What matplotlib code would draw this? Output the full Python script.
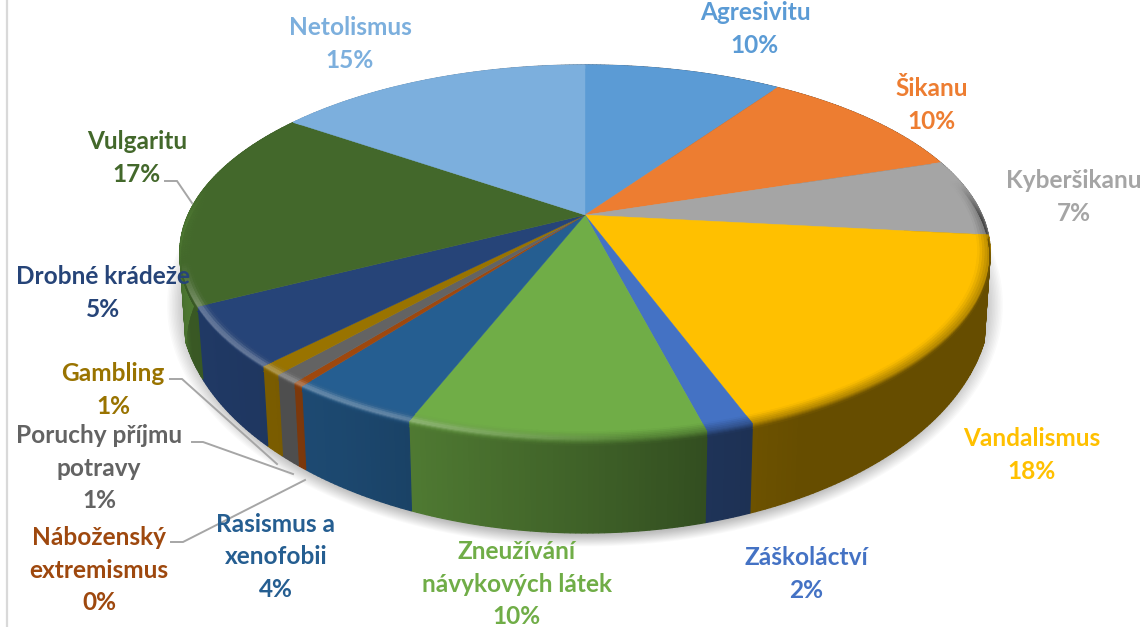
import numpy as np
import matplotlib
matplotlib.use("Agg")
import matplotlib.pyplot as plt
from matplotlib.colors import to_rgb
from matplotlib.patches import Polygon

categories = ["Agresivitu", "Šikanu", "Kyberšikanu", "Vandalismus", "Záškoláctví",
              "Zneužívání\nnávykových látek", "Rasismus a\nxenofobii", "Náboženský\nextremismus",
              "Poruchy příjmu\npotravy", "Gambling", "Drobné krádeže", "Vulgaritu", "Netolismus"]
values = [9.56, 10.44, 6.72, 17.72, 1.58, 9.86, 4.36, 0.36, 0.81, 0.81, 5.14, 17.36, 15.28]
colors = ["#5B9BD5", "#ED7D31", "#A5A5A5", "#FFC000", "#4472C4", "#70AD47", "#255E91",
          "#9E480E", "#636363", "#997300", "#264478", "#43682B", "#7CAFDD"]

# layout (pixels)
label_pos = [(755, 29), (932, 105), (1074, 197), (1032, 455), (806, 574), (517, 584), (276, 557),
             (99, 570), (99, 468), (113, 390), (103, 293), (137, 158), (350, 44)]
leaders = {7: [(171, 542), (183, 542), (305, 480)],
           8: [(192, 442), (203, 442), (293, 474)],
           9: [(170, 379), (182, 379), (277, 464)],
           11: [(165, 181), (177, 181), (192, 203)]}
CX, CY, A, B, K = 585, 215, 397, 180, 0.2
BOT_YC, BOT_RY, BOT_RX, BOT_S, BOT_D = 303, 230, 405, 0.985, 90

plt.rcParams["font.family"] = ["Lato", "Noto Sans", "DejaVu Sans"]
fig = plt.figure(figsize=(11.43, 6.27), dpi=100)
ax = fig.add_axes([0, 0, 1, 1])
ax.set_xlim(0, 1143)
ax.set_ylim(627, 0)
ax.axis("off")


def top_pt(th, r=1.0):
    w = 1 + K * r * np.cos(th)
    return CX + A * r * np.sin(th) / w, CY - B * r * np.cos(th) / w


def bot_pt(th):
    tx, ty = top_pt(th)
    dx = BOT_S * (tx - CX)
    y = BOT_YC + BOT_RY * np.sqrt(np.clip(1 - (dx / BOT_RX) ** 2, 0, 1))
    return CX + dx, np.where(np.cos(th) > -K, ty + BOT_D, y)


ax.axvline(6.5, color="#D9D9D9", lw=1.6, zorder=0)

# soft shadow under the pie
full = np.linspace(0, 2 * np.pi, 361)
for g in np.linspace(1.05, 1.0, 14):
    ax.add_patch(Polygon(np.c_[CX + 398 * g * np.sin(full), BOT_YC + 2 + BOT_RY * g * np.cos(full)],
                         closed=True, fc="black", ec="none", alpha=0.02, zorder=1))

edges = np.radians(np.r_[0, np.cumsum(values)] * 3.6)


def wall_factor(th):
    return np.interp(np.sin(th), [-1, -0.93, -0.5, 0, 0.25, 0.45, 1],
                     [1.15, 0.85, 0.76, 0.56, 0.45, 0.40, 0.40])


# walls
for i, c in enumerate(colors):
    base = np.array(to_rgb(c))
    n = max(4, int(np.degrees(edges[i + 1] - edges[i]) * 1.5))
    th = np.linspace(edges[i], edges[i + 1], n + 1)
    thc = 0.5 * (th[:-1] + th[1:])
    tx, ty = top_pt(th)
    ox, oy = bot_pt(th)
    for j in range(n):
        poly = [(tx[j], ty[j]), (tx[j + 1], ty[j + 1]), (ox[j + 1], oy[j + 1]), (ox[j], oy[j])]
        col = np.clip(base * wall_factor(thc[j]), 0, 1)
        ax.add_patch(Polygon(poly, closed=True, fc=col, ec=col, lw=0.9, zorder=2))

# top faces
for i, c in enumerate(colors):
    th = np.linspace(edges[i], edges[i + 1], 80)
    x, y = top_pt(th)
    ax.add_patch(Polygon(np.c_[np.r_[CX, x], np.r_[CY, y]], closed=True, fc=c, ec=c, lw=0.3, zorder=3))

# rounded rim: band from the top face over the edge onto the wall
for i, c in enumerate(colors):
    base = np.array(to_rgb(c))
    n = max(4, int(np.degrees(edges[i + 1] - edges[i]) * 1.5))
    th = np.linspace(edges[i], edges[i + 1], n + 1)
    thc = 0.5 * (th[:-1] + th[1:])
    vis = np.clip((0.2 - np.cos(thc)) / 0.2, 0, 1)
    us = np.linspace(0, 1, 11)
    X, Y = [], []
    for u in us:
        if u <= 0.5:
            x, y = top_pt(th, 1 - 0.03 * (1 - 2 * u))
        else:
            tx, ty = top_pt(th)
            ox, oy = bot_pt(th)
            d = 0.06 * (2 * u - 1)
            x, y = tx + (ox - tx) * d, ty + (oy - ty) * d
        X.append(x)
        Y.append(y)
    X, Y = np.array(X), np.array(Y)
    uc = 0.5 * (us[:-1] + us[1:])
    sx = np.sin(thc)
    hl = 0.3 * np.clip((0.1 - sx) / 0.5, 0, 1) * np.clip((-np.cos(thc) - 0.25) / 0.2, 0, 1)
    for k, u in enumerate(uc):
        wall = base * wall_factor(thc)[:, None]
        mix = base * (1 - u) + wall * u
        bump = np.exp(-((u - 0.42) / 0.2) ** 2)
        mix = mix + (1 - mix) * (hl * bump)[:, None]
        mix = base * (1 - vis[:, None]) + mix * vis[:, None]
        mix = np.clip(mix, 0, 1)
        for j in range(n):
            if u > 0.5 and vis[j] == 0:
                continue
            poly = [(X[k, j], Y[k, j]), (X[k, j + 1], Y[k, j + 1]),
                    (X[k + 1, j + 1], Y[k + 1, j + 1]), (X[k + 1, j], Y[k + 1, j])]
            ax.add_patch(Polygon(poly, closed=True, fc=mix[j], ec=mix[j], lw=0.5, zorder=4))

# leader lines
for pts in leaders.values():
    p = np.array(pts)
    ax.plot(p[:, 0], p[:, 1], color="#A6A6A6", lw=1.4, zorder=5, solid_joinstyle="miter")

# labels
for name, v, c, (lx, ly) in zip(categories, values, colors, label_pos):
    ax.text(lx, ly, f"{name}\n{round(v):d}%", color=c, ha="center", va="center", ma="center",
            fontsize=17.6, fontweight="bold", linespacing=1.5, zorder=6)

fig.savefig("out.png", dpi=100)
